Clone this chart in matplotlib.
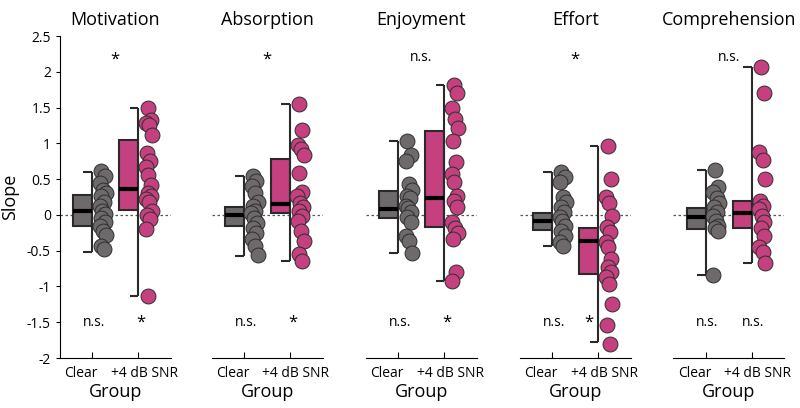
import matplotlib
matplotlib.use('Agg')
import matplotlib.pyplot as plt

plt.rcParams['font.family'] = ['Open Sans', 'DejaVu Sans']
plt.rcParams['axes.unicode_minus'] = False

titles = ['Motivation', 'Absorption', 'Enjoyment', 'Effort', 'Comprehension']
groups = ['Clear', '+4 dB SNR']

# box stats per panel: [clear, snr]
q1 = [[-0.16, 0.07], [-0.15, 0.02], [-0.04, -0.17], [-0.21, -0.83], [-0.20, -0.18]]
med = [[0.06, 0.36], [0.00, 0.15], [0.08, 0.23], [-0.08, -0.37], [-0.03, 0.02]]
q3 = [[0.28, 1.05], [0.11, 0.78], [0.33, 1.17], [0.02, -0.18], [0.10, 0.19]]
wlo = [[-0.52, -1.14], [-0.57, -0.64], [-0.53, -0.92], [-0.43, -1.78], [-0.84, -0.67]]
whi = [[0.60, 1.49], [0.55, 1.55], [1.03, 1.82], [0.60, 0.96], [0.63, 2.06]]

clear_pts = [
    [0.62, 0.55, 0.45, 0.35, 0.30, 0.26, 0.18, 0.12, 0.06, 0.01, -0.05, -0.10, -0.15, -0.22, -0.28, -0.43, -0.48],
    [0.55, 0.48, 0.40, 0.30, 0.18, 0.13, 0.06, 0.02, -0.04, -0.12, -0.19, -0.26, -0.34, -0.43, -0.56],
    [1.03, 0.83, 0.76, 0.43, 0.35, 0.27, 0.23, 0.13, 0.09, 0.04, -0.03, -0.10, -0.29, -0.36, -0.53],
    [0.60, 0.53, 0.46, 0.25, 0.18, 0.11, 0.04, -0.03, -0.08, -0.15, -0.22, -0.29, -0.38, -0.43],
    [0.63, 0.39, 0.32, 0.23, 0.16, 0.11, 0.04, -0.01, -0.08, -0.15, -0.19, -0.22, -0.84],
]
snr_pts = [
    [1.49, 1.32, 1.28, 1.25, 1.11, 0.87, 0.76, 0.67, 0.56, 0.42, 0.31, 0.27, 0.22, 0.18, 0.06, 0.00, -0.06, -0.20, -1.14],
    [1.55, 1.18, 0.97, 0.92, 0.84, 0.59, 0.32, 0.27, 0.16, 0.11, 0.06, -0.01, -0.08, -0.22, -0.36, -0.54, -0.64],
    [1.82, 1.71, 1.50, 1.34, 1.22, 1.03, 0.74, 0.57, 0.46, 0.27, 0.19, 0.11, -0.10, -0.19, -0.26, -0.33, -0.80, -0.92],
    [0.96, 0.50, 0.25, 0.16, -0.01, -0.17, -0.24, -0.38, -0.45, -0.61, -0.73, -0.80, -0.87, -0.96, -1.24, -1.54, -1.80],
    [2.06, 1.70, 0.88, 0.77, 0.50, 0.20, 0.13, 0.08, -0.01, -0.10, -0.19, -0.29, -0.45, -0.52, -0.67],
]

top_marks = ['*', '*', 'n.s.', '*', 'n.s.']
bottom_marks = [['n.s.', '*'], ['n.s.', '*'], ['n.s.', '*'], ['n.s.', '*'], ['n.s.', 'n.s.']]

gray = '#6e6a6b'
pink = '#c4407f'
edge = '#2a2a2a'
jitter = [0.20, 0.27, 0.17, 0.24, 0.30, 0.19, 0.25, 0.16, 0.22, 0.28]

fig = plt.figure(figsize=(8, 4.08), dpi=100)
lefts = [60, 211.7, 366, 520, 673.3]

for k in range(5):
    ax = fig.add_axes([lefts[k] / 800, 50 / 408, 111 / 800, 322 / 408])
    ax.set_xlim(0.3, 2.71)
    ax.set_ylim(-2, 2.5)
    ax.axhline(0, color='#555555', lw=0.9, ls=(0, (2, 2)), zorder=0)
    for g, col, pts in [(0, gray, clear_pts[k]), (1, pink, snr_pts[k])]:
        x = g + 1
        ax.bar(x, q3[k][g] - q1[k][g], bottom=q1[k][g], width=-0.41, align='edge',
               color=col, edgecolor=edge, linewidth=1.5, zorder=2)
        ax.hlines(med[k][g], x - 0.41, x, color='black', lw=3, zorder=3)
        ax.vlines(x, wlo[k][g], whi[k][g], color=edge, lw=1.5, zorder=2)
        ax.hlines([wlo[k][g], whi[k][g]], x - 0.19, x, color=edge, lw=1.5, zorder=2)
        xs = [x + jitter[i % len(jitter)] for i in range(len(pts))]
        ax.scatter(xs, pts, s=115, color=col, edgecolor='#2e2e2e', linewidth=0.7, zorder=4)
        bx = x + 0.06 if bottom_marks[k][g] == '*' else x + 0.04
        if k == 3 and g == 1:
            bx = x - 0.2
        ax.text(bx, -1.5, bottom_marks[k][g], ha='center', va='center',
                fontsize=10 if bottom_marks[k][g] == 'n.s.' else 12)
        # group label, shifted like in the source figure
        ax.text(x + (-0.24 if g == 0 else 0.13), -0.047, groups[g], ha='center', va='center',
                fontsize=10, transform=ax.get_xaxis_transform())
    ax.text(1.5, 2.2 if top_marks[k] == 'n.s.' else 2.17, top_marks[k], ha='center', va='center',
            fontsize=10 if top_marks[k] == 'n.s.' else 12)
    ax.text(0.5, -0.105, 'Group', ha='center', va='center', fontsize=13, transform=ax.transAxes)

    ax.set_xticks([1, 2])
    ax.set_xticklabels(['', ''])
    ax.tick_params(axis='x', direction='in', length=4)
    ax.set_title(titles[k], fontsize=13, pad=8)
    for s in ['top', 'right']:
        ax.spines[s].set_visible(False)
    if k == 0:
        ax.set_yticks([2.5, 2, 1.5, 1, 0.5, 0, -0.5, -1, -1.5, -2])
        ax.set_yticklabels(['2.5', '2', '1.5', '1', '0.5', '0', '-0.5', '-1', '-1.5', '-2'], fontsize=10)
        ax.tick_params(axis='y', direction='out', length=3)
        ax.set_ylabel('Slope', fontsize=13, labelpad=6)
    else:
        ax.spines['left'].set_visible(False)
        ax.set_yticks([])

fig.savefig('out.png', dpi=100)
